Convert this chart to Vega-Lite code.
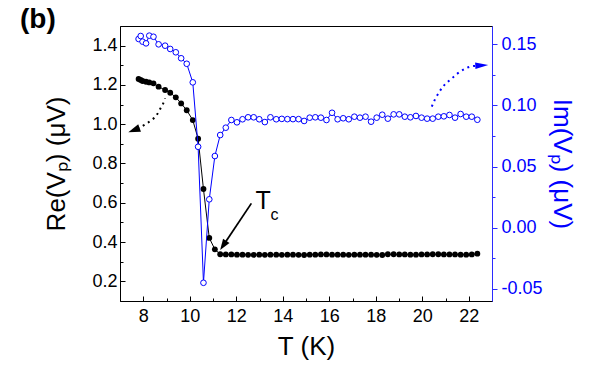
{
  "$schema": "https://vega.github.io/schema/vega-lite/v6.json",
  "width": 372,
  "height": 275,
  "autosize": {"type": "none"},
  "padding": {"left": 120, "top": 26, "right": 124, "bottom": 73},
  "background": "white",
  "config": {
    "view": {"stroke": "black", "strokeWidth": 1},
    "font": "Liberation Sans",
    "axis": {"grid": false, "labelFont": "Liberation Sans", "titleFont": "Liberation Sans", "titleFontWeight": "normal", "labelFontSize": 18, "titleFontSize": 26, "domainWidth": 1, "tickWidth": 1}
  },
  "title": {"text": "(b)", "anchor": "start", "frame": "group", "dx": -100, "offset": 0, "dy": 30, "baseline": "alphabetic", "fontSize": 28, "fontWeight": "bold", "font": "Liberation Sans", "color": "black"},
  "datasets": {
    "main": [
      {"T": 7.80, "re": 1.230, "im": 0.1544},
      {"T": 7.89, "re": 1.225, "im": 0.1568},
      {"T": 7.97, "re": 1.220, "im": 0.1522},
      {"T": 8.12, "re": 1.216, "im": 0.1508},
      {"T": 8.26, "re": 1.213, "im": 0.1571},
      {"T": 8.44, "re": 1.208, "im": 0.1562},
      {"T": 8.66, "re": 1.191, "im": 0.1500},
      {"T": 8.94, "re": 1.174, "im": 0.1489},
      {"T": 9.16, "re": 1.160, "im": 0.1462},
      {"T": 9.40, "re": 1.137, "im": 0.1435},
      {"T": 9.63, "re": 1.106, "im": 0.1386},
      {"T": 9.87, "re": 1.071, "im": 0.1341},
      {"T": 10.13, "re": 1.021, "im": 0.1189},
      {"T": 10.36, "re": 0.926, "im": 0.0662},
      {"T": 10.59, "re": 0.670, "im": -0.0451},
      {"T": 10.84, "re": 0.421, "im": 0.0232},
      {"T": 11.08, "re": 0.363, "im": 0.0586},
      {"T": 11.31, "re": 0.338, "im": 0.0758},
      {"T": 11.55, "re": 0.337, "im": 0.0818},
      {"T": 11.79, "re": 0.337, "im": 0.0881},
      {"T": 12.03, "re": 0.336, "im": 0.0862},
      {"T": 12.27, "re": 0.336, "im": 0.0887},
      {"T": 12.51, "re": 0.335, "im": 0.0903},
      {"T": 12.75, "re": 0.335, "im": 0.0903},
      {"T": 12.99, "re": 0.336, "im": 0.0887},
      {"T": 13.23, "re": 0.335, "im": 0.0864},
      {"T": 13.47, "re": 0.336, "im": 0.0903},
      {"T": 13.72, "re": 0.336, "im": 0.0887},
      {"T": 13.96, "re": 0.335, "im": 0.0890},
      {"T": 14.20, "re": 0.336, "im": 0.0888},
      {"T": 14.44, "re": 0.336, "im": 0.0888},
      {"T": 14.68, "re": 0.335, "im": 0.0888},
      {"T": 14.92, "re": 0.334, "im": 0.0873},
      {"T": 15.16, "re": 0.336, "im": 0.0900},
      {"T": 15.40, "re": 0.336, "im": 0.0903},
      {"T": 15.64, "re": 0.337, "im": 0.0900},
      {"T": 15.88, "re": 0.337, "im": 0.0881},
      {"T": 16.12, "re": 0.336, "im": 0.0940},
      {"T": 16.36, "re": 0.336, "im": 0.0887},
      {"T": 16.60, "re": 0.336, "im": 0.0895},
      {"T": 16.84, "re": 0.335, "im": 0.0887},
      {"T": 17.08, "re": 0.336, "im": 0.0908},
      {"T": 17.32, "re": 0.336, "im": 0.0900},
      {"T": 17.56, "re": 0.336, "im": 0.0908},
      {"T": 17.80, "re": 0.336, "im": 0.0867},
      {"T": 18.04, "re": 0.335, "im": 0.0900},
      {"T": 18.28, "re": 0.334, "im": 0.0924},
      {"T": 18.52, "re": 0.338, "im": 0.0892},
      {"T": 18.77, "re": 0.338, "im": 0.0927},
      {"T": 19.01, "re": 0.337, "im": 0.0927},
      {"T": 19.25, "re": 0.337, "im": 0.0908},
      {"T": 19.49, "re": 0.336, "im": 0.0903},
      {"T": 19.73, "re": 0.336, "im": 0.0914},
      {"T": 19.97, "re": 0.337, "im": 0.0900},
      {"T": 20.21, "re": 0.337, "im": 0.0892},
      {"T": 20.45, "re": 0.338, "im": 0.0892},
      {"T": 20.69, "re": 0.338, "im": 0.0908},
      {"T": 20.93, "re": 0.337, "im": 0.0911},
      {"T": 21.17, "re": 0.337, "im": 0.0922},
      {"T": 21.41, "re": 0.337, "im": 0.0900},
      {"T": 21.65, "re": 0.336, "im": 0.0930},
      {"T": 21.89, "re": 0.336, "im": 0.0908},
      {"T": 22.13, "re": 0.337, "im": 0.0908},
      {"T": 22.37, "re": 0.341, "im": 0.0883}
    ],
    "blackCurve": [
      {"T": 8.94, "re": 1.132},
      {"T": 8.84, "re": 1.101},
      {"T": 8.72, "re": 1.076},
      {"T": 8.58, "re": 1.047},
      {"T": 8.36, "re": 1.021},
      {"T": 8.15, "re": 1.005},
      {"T": 7.91, "re": 0.987},
      {"T": 7.75, "re": 0.979}
    ],
    "blackHead": [{"T": 7.60, "re": 0.970}],
    "tcLine": [
      {"T": 12.65, "re": 0.597},
      {"T": 11.46, "re": 0.386}
    ],
    "tcHead": [{"T": 11.44, "re": 0.383}],
    "tcMain": [{"T": 12.83, "re": 0.567, "label": "T"}],
    "tcSub": [{"T": 13.47, "re": 0.512, "label": "c"}],
    "blueCurve": [
      {"T": 20.41, "im": 0.0990},
      {"T": 20.55, "im": 0.1050},
      {"T": 20.74, "im": 0.1112},
      {"T": 20.95, "im": 0.1167},
      {"T": 21.23, "im": 0.1214},
      {"T": 21.49, "im": 0.1257},
      {"T": 21.82, "im": 0.1298},
      {"T": 22.06, "im": 0.1317},
      {"T": 22.30, "im": 0.1324}
    ],
    "blueHead": [{"T": 22.56, "im": 0.1328}]
  },
  "layer": [
    {
      "encoding": {
        "x": {
          "field": "T", "type": "quantitative",
          "scale": {"domain": [7, 23], "nice": false, "zero": false},
          "axis": {
            "title": "T (K)",
            "values": [8, 9, 10, 11, 12, 13, 14, 15, 16, 17, 18, 19, 20, 21, 22],
            "labelExpr": "datum.value % 2 === 0 ? datum.label : ''",
            "tickSize": {"condition": {"test": "datum.value % 2 === 0", "value": -5}, "value": -3},
            "labelPadding": 11,
            "titlePadding": 8,
            "domainColor": "black", "tickColor": "black", "labelColor": "black", "titleColor": "black"
          }
        },
        "y": {
          "field": "re", "type": "quantitative",
          "scale": {"domain": [0.1, 1.5], "nice": false, "zero": false},
          "axis": {
            "orient": "left",
            "title": "Re(Vₚ) (μV)",
            "values": [0.2, 0.3, 0.4, 0.5, 0.6, 0.7, 0.8, 0.9, 1.0, 1.1, 1.2, 1.3, 1.4],
            "format": ".1f",
            "labelExpr": "round(datum.value * 10) % 2 === 0 ? datum.label : ''",
            "tickSize": {"condition": {"test": "round(datum.value * 10) % 2 === 0", "value": -5}, "value": -3},
            "labelPadding": 8,
            "titlePadding": 22,
            "domainColor": "black", "tickColor": "black", "labelColor": "black", "titleColor": "black"
          }
        }
      },
      "layer": [
        {"data": {"name": "main"}, "mark": {"type": "line", "color": "black", "strokeWidth": 1}},
        {"data": {"name": "main"}, "mark": {"type": "point", "shape": "circle", "filled": true, "color": "black", "size": 34, "opacity": 1}},
        {"data": {"name": "blackCurve"}, "mark": {"type": "line", "color": "black", "strokeWidth": 2, "strokeDash": [2, 4], "interpolate": "monotone"}},
        {"data": {"name": "blackHead"}, "mark": {"type": "point", "shape": "M0,-1L0.65,1L-0.65,1Z", "filled": true, "color": "black", "size": 144, "angle": 249.6, "opacity": 1}},
        {"data": {"name": "tcLine"}, "mark": {"type": "line", "color": "black", "strokeWidth": 1.8}},
        {"data": {"name": "tcHead"}, "mark": {"type": "point", "shape": "M0,-1L0.7,1L-0.7,1Z", "filled": true, "color": "black", "size": 121, "angle": 213.6, "opacity": 1}},
        {"data": {"name": "tcMain"}, "mark": {"type": "text", "align": "left", "baseline": "alphabetic", "fontSize": 25, "font": "Liberation Sans", "color": "black"}, "encoding": {"text": {"field": "label"}}},
        {"data": {"name": "tcSub"}, "mark": {"type": "text", "align": "left", "baseline": "alphabetic", "fontSize": 16, "font": "Liberation Sans", "color": "black"}, "encoding": {"text": {"field": "label"}}}
      ]
    },
    {
      "encoding": {
        "x": {
          "field": "T", "type": "quantitative",
          "scale": {"domain": [7, 23], "nice": false, "zero": false},
          "axis": {
            "title": "T (K)",
            "values": [8, 9, 10, 11, 12, 13, 14, 15, 16, 17, 18, 19, 20, 21, 22],
            "labelExpr": "datum.value % 2 === 0 ? datum.label : ''",
            "tickSize": {"condition": {"test": "datum.value % 2 === 0", "value": -5}, "value": -3},
            "labelPadding": 11,
            "titlePadding": 8,
            "domainColor": "black", "tickColor": "black", "labelColor": "black", "titleColor": "black"
          }
        },
        "y": {
          "field": "im", "type": "quantitative",
          "scale": {"domain": [-0.06, 0.165], "nice": false, "zero": false},
          "axis": {
            "orient": "right",
            "title": "Im(Vₚ) (μV)",
            "values": [-0.05, -0.025, 0, 0.025, 0.05, 0.075, 0.1, 0.125, 0.15],
            "format": ".2f",
            "labelExpr": "round(datum.value * 1000) % 50 === 0 ? replace(datum.label, '−', '-') : ''",
            "tickSize": {"condition": {"test": "round(datum.value * 1000) % 50 === 0", "value": 5}, "value": 3},
            "labelPadding": 4,
            "titlePadding": 6,
            "domainColor": "#2b2bff", "tickColor": "#2b2bff", "labelColor": "#0000ff", "titleColor": "#0000ff"
          }
        }
      },
      "layer": [
        {"data": {"name": "main"}, "mark": {"type": "line", "color": "#0000ff", "strokeWidth": 1}},
        {"data": {"name": "main"}, "mark": {"type": "point", "shape": "circle", "filled": true, "fill": "white", "stroke": "#0000ff", "strokeWidth": 1, "size": 32, "opacity": 1}},
        {"data": {"name": "blueCurve"}, "mark": {"type": "line", "color": "#0000ff", "strokeWidth": 2, "strokeDash": [2, 4], "interpolate": "monotone"}},
        {"data": {"name": "blueHead"}, "mark": {"type": "point", "shape": "M0,-1L0.5,1L-0.5,1Z", "filled": true, "color": "#0000ff", "size": 169, "angle": 87, "opacity": 1}}
      ]
    }
  ],
  "resolve": {"scale": {"y": "independent"}}
}
